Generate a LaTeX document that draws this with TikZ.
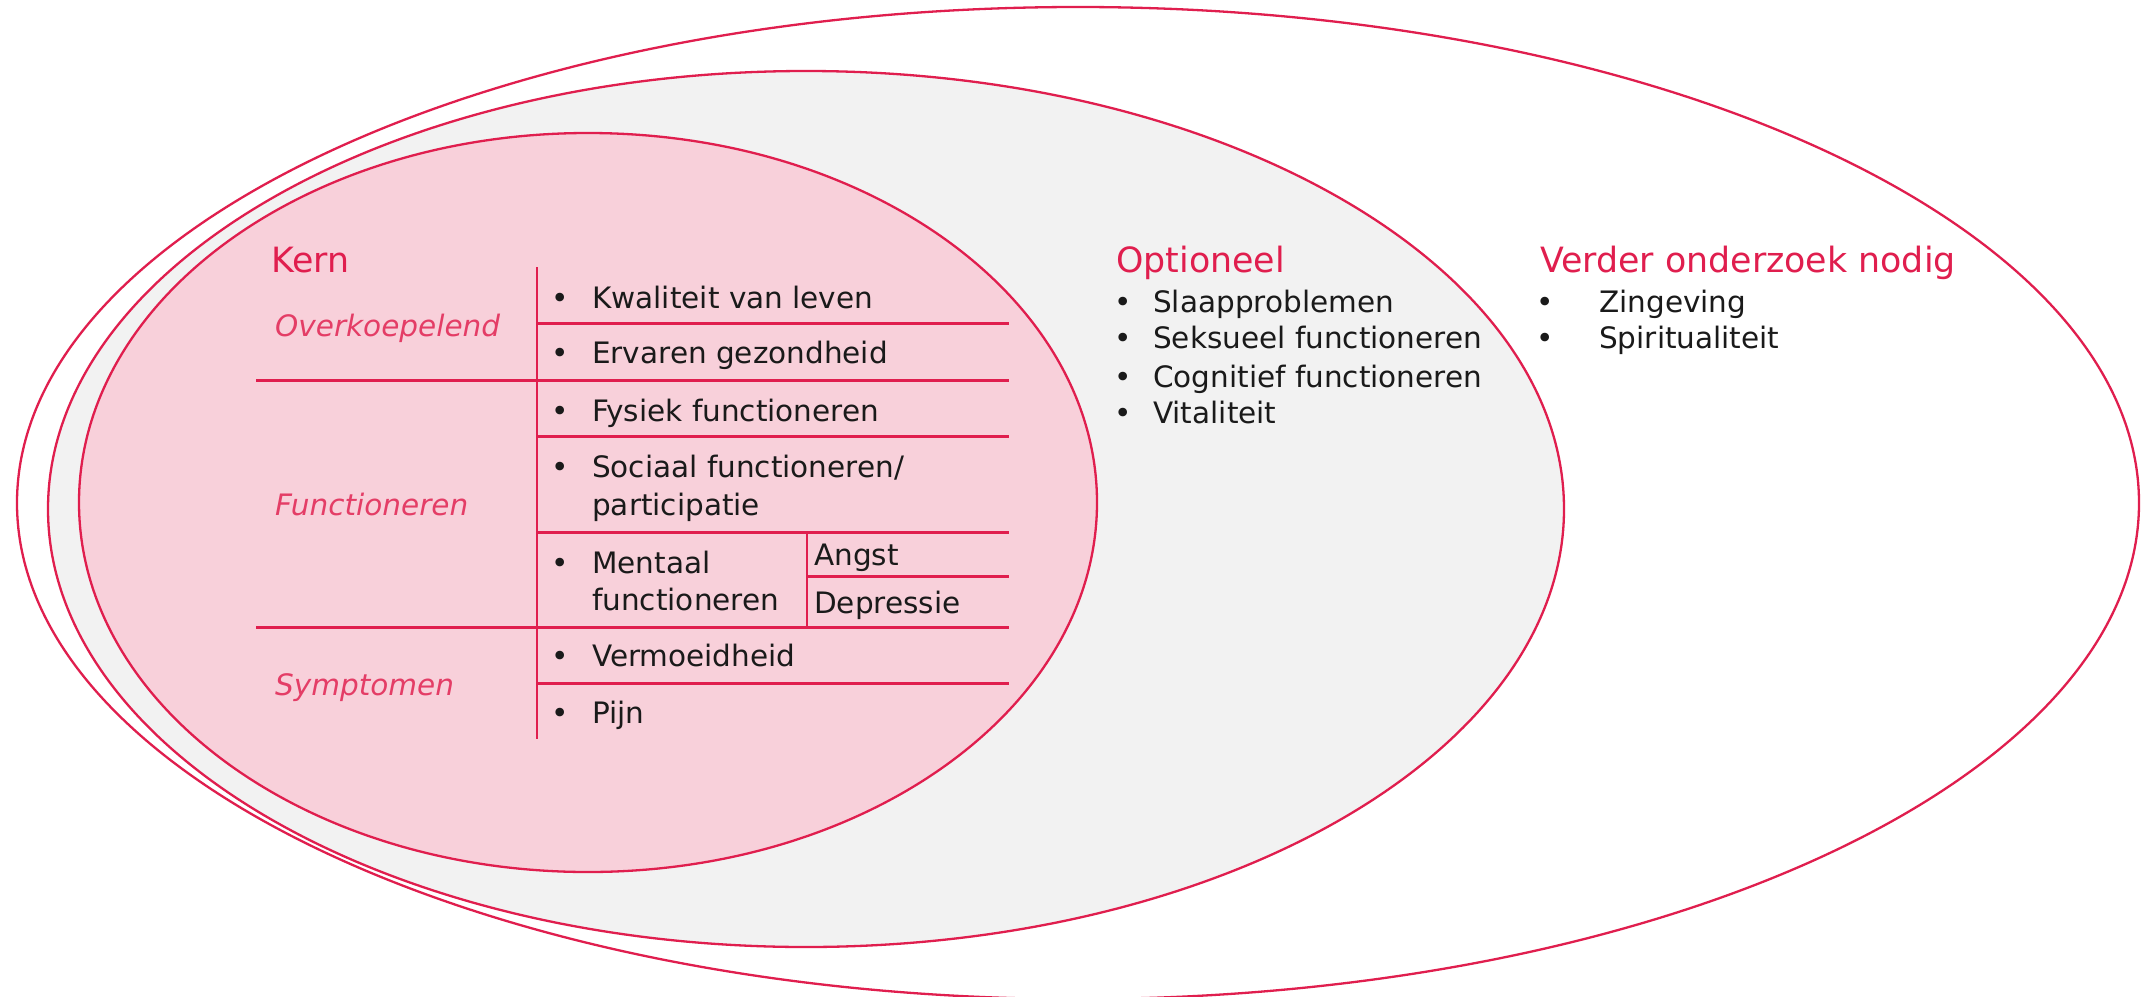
\documentclass[tikz,border=0pt]{standalone}
\usepackage{fontspec}
\setmainfont{DejaVu Sans}
\definecolor{crim}{HTML}{E01E4E}
\definecolor{pinkfill}{HTML}{F8D0DA}
\definecolor{grayfill}{HTML}{F2F2F2}
\definecolor{catcol}{HTML}{E43D66}
\definecolor{txt}{HTML}{1A1A1A}
\tikzset{
  ring/.style={draw=crim, line width=2.3pt},
  hline/.style={draw=crim, line width=3pt},
  vline/.style={draw=crim, line width=2.3pt},
  heading/.style={anchor=base west, inner sep=0pt, text=crim, font=\fontsize{34.8}{40}\selectfont},
  cat/.style={anchor=base west, inner sep=0pt, text=catcol, font=\fontsize{29.5}{36}\selectfont\itshape},
  item/.style={anchor=base west, inner sep=0pt, text=txt, font=\fontsize{29.5}{38}\selectfont},
  bul/.style={anchor=base, inner sep=0pt, text=txt, font=\fontsize{29.5}{38}\selectfont},
}
\begin{document}
\begin{tikzpicture}[x=1pt,y=-1pt]
\useasboundingbox (0,0) rectangle (2143,996);
% ellipses
\draw[ring, fill=white] (1078,503) ellipse [x radius=1061pt, y radius=496pt];
\draw[ring, fill=grayfill] (806,509) ellipse [x radius=758pt, y radius=438pt];
\draw[ring, fill=pinkfill] (588,502.5) ellipse [x radius=509pt, y radius=369.5pt];

% table coordinates
\coordinate (vT) at (537,267);
\coordinate (vB) at (537,739);
\coordinate (l1a) at (537,323);  \coordinate (l1b) at (1009,323);
\coordinate (l2a) at (256,380);  \coordinate (l2b) at (1009,380);
\coordinate (l3a) at (537,436);  \coordinate (l3b) at (1009,436);
\coordinate (l4a) at (537,532);  \coordinate (l4b) at (1009,532);
\coordinate (l5a) at (807,576);  \coordinate (l5b) at (1009,576);
\coordinate (l6a) at (256,627);  \coordinate (l6b) at (1009,627);
\coordinate (l7a) at (537,683);  \coordinate (l7b) at (1009,683);
\coordinate (sT) at (807,532);
\coordinate (sB) at (807,627);

\draw[hline] (l1a) -- (l1b);
\draw[hline] (l2a) -- (l2b);
\draw[hline] (l3a) -- (l3b);
\draw[hline] (l4a) -- (l4b);
\draw[hline] (l5a) -- (l5b);
\draw[hline] (l6a) -- (l6b);
\draw[hline] (l7a) -- (l7b);
\draw[vline] (vT) -- (vB);
\draw[vline] (sT) -- (sB);

% Kern
\node[heading] (kern) at (271,272) {Kern};
\node[cat] (cat1) at (275,336) {Overkoepelend};
\node[cat] (cat2) at (275,515) {Functioneren};
\node[cat] (cat3) at (275,695) {Symptomen};

\node[bul] (b1) at (560,308) {•};
\node[item] (i1) at (592,308) {Kwaliteit van leven};
\node[bul] (b2) at (560,363) {•};
\node[item] (i2) at (592,363) {Ervaren gezondheid};
\node[bul] (b3) at (560,421) {•};
\node[item] (i3) at (592,421) {Fysiek functioneren};
\node[bul] (b4) at (560,477) {•};
\node[item] (i4a) at (592,477) {Sociaal functioneren/};
\node[item] (i4b) at (592,515) {participatie};
\node[bul] (b5) at (560,573) {•};
\node[item] (i5a) at (592,573) {Mentaal};
\node[item] (i5b) at (592,610) {functioneren};
\node[item] (angst) at (814,565) {Angst};
\node[item] (depr) at (814,613) {Depressie};
\node[bul] (b6) at (560,666) {•};
\node[item] (i6) at (592,666) {Vermoeidheid};
\node[bul] (b7) at (560,723) {•};
\node[item] (i7) at (592,723) {Pijn};

% Optioneel
\node[heading] (opt) at (1116,272) {Optioneel};
\node[bul] (ob1) at (1123,312) {•};
\node[item] (o1) at (1153,312) {Slaapproblemen};
\node[bul] (ob2) at (1123,348) {•};
\node[item] (o2) at (1153,348) {Seksueel functioneren};
\node[bul] (ob3) at (1123,387) {•};
\node[item] (o3) at (1153,387) {Cognitief functioneren};
\node[bul] (ob4) at (1123,423) {•};
\node[item] (o4) at (1153,423) {Vitaliteit};

% Verder onderzoek nodig
\node[heading] (ver) at (1540,272) {Verder onderzoek nodig};
\node[bul] (vb1) at (1545,312) {•};
\node[item] (v1) at (1599,312) {Zingeving};
\node[bul] (vb2) at (1545,348) {•};
\node[item] (v2) at (1599,348) {Spiritualiteit};
\end{tikzpicture}
\end{document}
